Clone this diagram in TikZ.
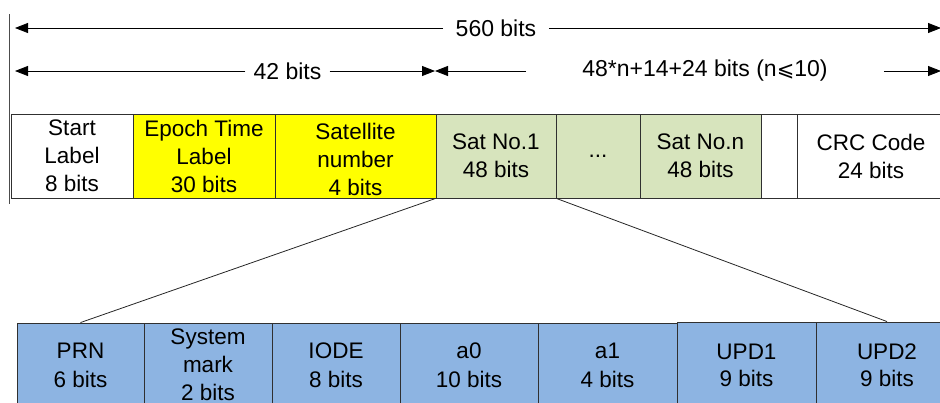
\documentclass[tikz,border=0pt]{standalone}
\usepackage{fontspec}
\setmainfont{Liberation Sans}
\usetikzlibrary{arrows.meta}
\definecolor{ylw}{HTML}{FFFF00}
\definecolor{grn}{HTML}{D7E4BD}
\definecolor{blu}{HTML}{8DB4E2}
\definecolor{edge}{HTML}{303030}
\begin{document}
\begin{tikzpicture}[x=1pt,y=-1pt,
  cell/.style={draw=edge,line width=0.9pt,inner sep=0pt,align=center,
    font=\fontsize{22.5}{28}\selectfont,minimum height=84pt},
  lowcell/.style={cell,font=\fontsize{22.5}{29}\selectfont},
  dim/.style={line width=0.8pt,-{Triangle[length=13pt,width=10pt]}},
  dimlabel/.style={inner ysep=0pt,font=\fontsize{23}{26}\selectfont},
  fan/.style={line width=0.8pt,draw=black!85}]
\useasboundingbox (0,0) rectangle (940,402);
% vertical marker line
\coordinate (vtop) at (9.5,14);
\coordinate (vbot) at (9.5,204);
\draw[line width=0.8pt,draw=black!70] (vtop) -- (vbot);
% top row
\node[cell,minimum width=122pt] (start) at (72,156) {Start\\Label\\8 bits};
\node[cell,fill=ylw,minimum width=142pt] (epoch) at (204,156) {Epoch Time\\Label\\30 bits};
\node[cell,fill=ylw,minimum width=161pt,
  label={[name=satnumtxt,align=center,font=\fontsize{22.5}{28}\selectfont,yshift=-3pt]center:Satellite\\number\\4 bits}] (satnum) at (355.5,156) {};
\node[cell,fill=grn,minimum width=120pt] (sat1) at (496,156) {Sat No.1\\48 bits};
\node[cell,fill=grn,minimum width=84pt] (dots) at (598,156) {...};
\node[cell,fill=grn,minimum width=121pt] (satn) at (700.5,156) {Sat No.n\\48 bits};
\node[cell,minimum width=36pt] (blank) at (779,156) {};
\node[cell,minimum width=148pt] (crc) at (871,156) {CRC Code\\24 bits};
% dimension arrows
\coordinate (l560) at (15,28);
\coordinate (r560) at (941,28);
\node[dimlabel,inner xsep=12.5pt] (t560) at (496,28) {560 bits};
\draw[dim] (t560.west) -- (l560);
\draw[dim] (t560.east) -- (r560);
\coordinate (l42) at (15,71);
\coordinate (r42) at (435,71);
\node[dimlabel,inner xsep=8pt] (t42) at (287.5,71) {42 bits};
\draw[dim] (t42.west) -- (l42);
\draw[dim] (t42.east) -- (r42);
\coordinate (lvar) at (435,71);
\coordinate (rvar) at (941,71);
\node[dimlabel,inner xsep=56pt] (tvar) at (705,71) {48*n+14+24 bits (n{\fontspec{DejaVu Sans}\fontsize{21}{26}\selectfont ⩽}10)};
\draw[dim] (tvar.west) -- (lvar);
\draw[dim] (tvar.east) -- (rvar);
% bottom row
\node[lowcell,fill=blu,minimum width=127pt] (prn) at (80.5,365) {PRN\\6 bits};
\node[cell,fill=blu,minimum width=128pt] (sysm) at (208,365) {System\\mark\\2 bits};
\node[lowcell,fill=blu,minimum width=128pt] (iode) at (336,365) {IODE\\8 bits};
\node[lowcell,fill=blu,minimum width=138pt] (a0) at (469,365) {a0\\10 bits};
\node[cell,fill=blu,minimum width=139pt] (a1) at (607.5,365) {\raisebox{1pt}{a1}\\4 bits};
\node[lowcell,fill=blu,minimum width=139pt,minimum height=86pt] (upd1) at (746.5,365) {\raisebox{-2pt}{UPD1}\\9 bits};
\node[lowcell,fill=blu,minimum width=142pt,minimum height=86pt] (upd2) at (887,365) {\raisebox{-2pt}{UPD2}\\9 bits};
% fan lines
\draw[fan] (sat1.south west) -- (prn.north);
\draw[fan] (sat1.south east) -- (upd2.north);
\end{tikzpicture}
\end{document}
